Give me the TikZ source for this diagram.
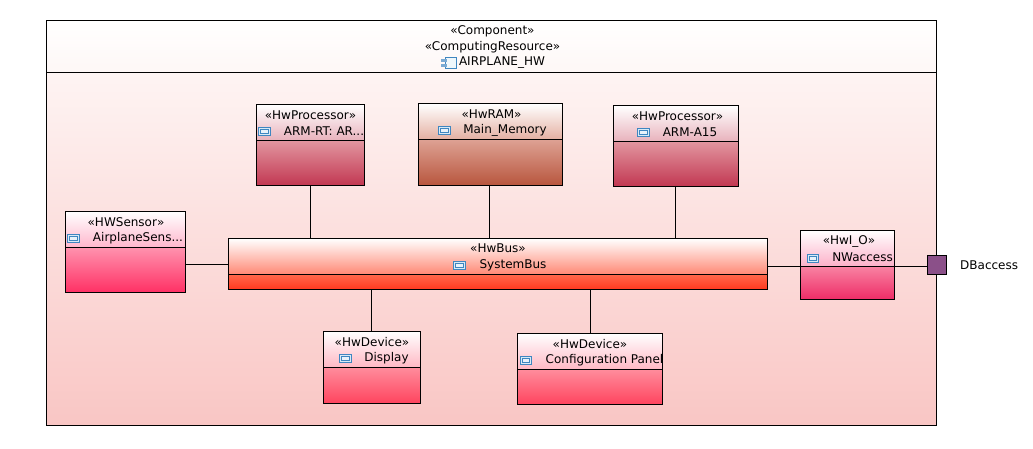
\documentclass[tikz,border=0pt]{standalone}
\usepackage{fontspec}
\setmainfont{DejaVu Sans}
\usepackage{xcolor}
\definecolor{edgeblue}{HTML}{3F86C0}
\definecolor{iconfill}{HTML}{D8EAF6}
\definecolor{portfill}{HTML}{8B5089}
\tikzset{
  part/.style={draw,line width=1pt,inner sep=0pt,outer sep=0pt,rectangle},
  outerhead/.style={part,top color=white,bottom color={rgb,255:red,254;green,247;blue,246}},
  outerbody/.style={part,top color={rgb,255:red,254;green,244;blue,243},bottom color={rgb,255:red,249;green,198;blue,196}},
  prochead/.style={part,top color=white,bottom color={rgb,255:red,232;green,178;blue,188}},
  procbody/.style={part,top color={rgb,255:red,226;green,150;blue,160},bottom color={rgb,255:red,194;green,56;blue,82}},
  ramhead/.style={part,top color=white,bottom color={rgb,255:red,228;green,176;blue,162}},
  rambody/.style={part,top color={rgb,255:red,222;green,162;blue,148},bottom color={rgb,255:red,184;green,86;blue,62}},
  senshead/.style={part,top color=white,bottom color={rgb,255:red,255;green,182;blue,204}},
  sensbody/.style={part,top color={rgb,255:red,255;green,146;blue,174},bottom color={rgb,255:red,255;green,48;blue,100}},
  bushead/.style={part,top color=white,bottom color={rgb,255:red,255;green,136;blue,116}},
  busbody/.style={part,top color={rgb,255:red,255;green,104;blue,76},bottom color={rgb,255:red,255;green,56;blue,30}},
  devhead/.style={part,top color=white,bottom color={rgb,255:red,255;green,184;blue,196}},
  devbody/.style={part,top color={rgb,255:red,255;green,140;blue,156},bottom color={rgb,255:red,255;green,68;blue,94}},
  iohead/.style={part,top color=white,bottom color={rgb,255:red,252;green,176;blue,200}},
  iobody/.style={part,top color={rgb,255:red,248;green,130;blue,162},bottom color={rgb,255:red,238;green,44;blue,102}},
  hwicon/.style={draw=edgeblue,double=iconfill,double distance=1.2pt,fill=iconfill!60,line width=0.7pt,inner sep=0pt,minimum width=9.5pt,minimum height=5.5pt},
  lbl/.style={inner sep=0pt,font=\fontsize{12}{14}\selectfont},
  wire/.style={line width=0.9pt}
}
\begin{document}
\begin{tikzpicture}[line cap=butt,line join=miter,x=1pt,y=-1pt]
\useasboundingbox (0,0) rectangle (1033,449);
% outer component
\node[outerhead,minimum width=890,minimum height=52] (hwhead) at (491.5,46.5) {};
\node[outerbody,minimum width=890,minimum height=353] (hwbody) at (491.5,249) {};
\node[lbl] (hwst1) at (492.5,31) {«Component»};
\node[lbl] (hwst2) at (492.5,47) {«ComputingResource»};
\node[lbl] (hwname) at (502,63) {AIRPLANE\_HW};
\node[draw=edgeblue,fill=iconfill!40,line width=0.8pt,inner sep=0pt,minimum width=11pt,minimum height=10.5pt] (hwicon) at (450.5,63) {};
\node[fill=edgeblue!70,inner sep=0pt,minimum width=6pt,minimum height=2.5pt] (hwtab1) at (444,60.5) {};
\node[fill=edgeblue!70,inner sep=0pt,minimum width=6pt,minimum height=2.5pt] (hwtab2) at (444,65.5) {};
% processors
\node[prochead,minimum width=107.5,minimum height=35.5] (rthead) at (310.5,122.5) {};
\node[procbody,minimum width=107.5,minimum height=45] (rtbody) at (310.5,162.75) {};
\node[lbl] (rtst) at (310.5,115) {«HwProcessor»};
\node[hwicon] (rticon) at (264.5,131.5) {};
\node[lbl] (rtname) at (324,131) {ARM-RT: AR...};
\node[prochead,minimum width=125,minimum height=35.5] (a15head) at (676,123.5) {};
\node[procbody,minimum width=125,minimum height=45] (a15body) at (676,163.75) {};
\node[lbl] (a15st) at (677.5,116) {«HwProcessor»};
\node[hwicon] (a15icon) at (643.5,132.5) {};
\node[lbl] (a15name) at (690,132) {ARM-A15};
\coordinate (a15tap) at (675,186);
% memory
\node[ramhead,minimum width=144,minimum height=35.5] (ramhead) at (490.5,121.5) {};
\node[rambody,minimum width=144,minimum height=46] (rambody) at (490.5,162.25) {};
\node[lbl] (ramst) at (491.5,114) {«HwRAM»};
\node[hwicon] (ramicon) at (444.5,130.5) {};
\node[lbl] (ramname) at (505,130) {Main\_Memory};
\coordinate (ramtap) at (489,185);
% sensor
\node[senshead,minimum width=120,minimum height=36] (senshead) at (125.5,229.5) {};
\node[sensbody,minimum width=120,minimum height=45] (sensbody) at (125.5,270) {};
\node[lbl] (sensst) at (126,222) {«HWSensor»};
\node[hwicon] (sensicon) at (73.5,238.5) {};
\node[lbl] (sensname) at (138,238) {AirplaneSens...};
% bus
\node[bushead,minimum width=539.5,minimum height=36] (bushead) at (498,256.5) {};
\node[busbody,minimum width=539.5,minimum height=15] (busbody) at (498,282) {};
\node[lbl] (busst) at (498,248.5) {«HwBus»};
\node[hwicon] (busicon) at (459.5,265.5) {};
\node[lbl] (busname) at (513,265) {SystemBus};
\coordinate (bustap) at (498,264);
% devices
\node[devhead,minimum width=97,minimum height=36] (disphead) at (372,349.5) {};
\node[devbody,minimum width=97,minimum height=36] (dispbody) at (372,385.5) {};
\node[lbl] (dispst) at (372,342) {«HwDevice»};
\node[hwicon] (dispicon) at (345.5,358.5) {};
\node[lbl] (dispname) at (386.5,358) {Display};
\coordinate (disptap) at (371.5,331);
\node[devhead,minimum width=145,minimum height=36] (confhead) at (590,351.5) {};
\node[devbody,minimum width=145,minimum height=35] (confbody) at (590,387) {};
\node[lbl] (confst) at (590,344) {«HwDevice»};
\node[hwicon] (conficon) at (526,360.5) {};
\node[lbl] (confname) at (604.5,360) {Configuration Panel};
% network interface
\node[iohead,minimum width=94,minimum height=36] (iohead) at (847.5,248.5) {};
\node[iobody,minimum width=94,minimum height=33] (iobody) at (847.5,283) {};
\node[lbl] (iost) at (849,241) {«HwI\_O»};
\node[hwicon] (ioicon) at (813,258.5) {};
\node[lbl] (ioname) at (862.5,257.5) {NWaccess};
% port
\node[part,fill=portfill,minimum width=19,minimum height=19] (port) at (937,265) {};
\node[lbl,anchor=west] (portname) at (960,265.5) {DBaccess};
% wires
\draw[wire] (rtbody.south) -- (rtbody.south |- bushead.north);
\draw[wire] (ramtap) -- (ramtap |- bushead.north);
\draw[wire] (a15tap) -- (a15tap |- bushead.north);
\draw[wire] (sensbody.east |- bustap) -- (bushead.west |- bustap);
\draw[wire] (busbody.south -| disptap) -- (disptap);
\draw[wire] (busbody.south -| confhead.north) -- (confhead.north);
\draw[wire] (bushead.east |- iobody.north) -- (iobody.north west);
\draw[wire] (iobody.north east) -- (port.west |- iobody.north);
\end{tikzpicture}
\end{document}
